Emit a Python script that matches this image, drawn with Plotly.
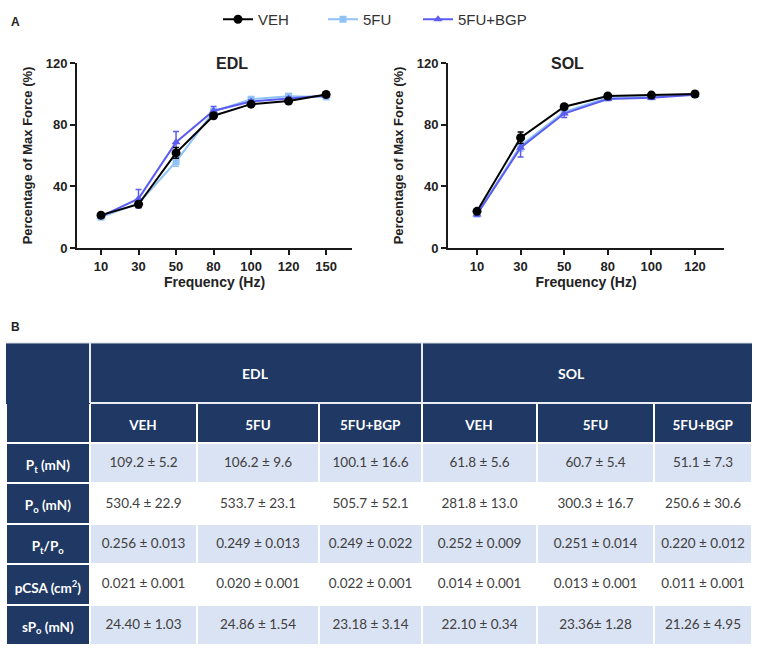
import plotly.graph_objects as go

# ---------------- data ----------------
freq_edl = ["10", "30", "50", "80", "100", "120", "150"]
edl_veh = [21.3, 28.4, 61.7, 85.8, 93.3, 95.3, 99.6]
edl_veh_err = [1.0, 1.5, 3.5, 1.0, 1.0, 1.0, 0.3]
edl_5fu = [20.0, 29.0, 56.0, 88.5, 96.5, 98.5, 98.0]
edl_5fu_err = [1.0, 1.5, 3.0, 2.0, 1.0, 1.5, 0.5]
edl_bgp = [20.5, 32.0, 68.6, 89.0, 95.0, 97.0, 99.0]
edl_bgp_err = [1.0, 6.0, 7.0, 2.8, 1.0, 1.0, 0.5]

freq_sol = ["10", "30", "50", "80", "100", "120"]
sol_veh = [23.8, 71.5, 91.6, 98.6, 99.2, 99.9]
sol_veh_err = [1.0, 3.7, 1.0, 0.8, 0.8, 0.3]
sol_5fu = [22.0, 66.4, 88.3, 97.5, 98.0, 99.5]
sol_5fu_err = [1.0, 3.5, 1.5, 1.0, 1.0, 0.5]
sol_bgp = [21.8, 65.0, 87.2, 96.6, 97.5, 99.4]
sol_bgp_err = [1.0, 6.0, 2.6, 1.0, 1.0, 0.5]

y_ticks = [0, 40, 80, 120]

row_labels = ["P<sub>t</sub> (mN)", "P<sub>o</sub> (mN)", "P<sub>t</sub>/P<sub>o</sub>",
              "pCSA (cm<sup>2</sup>)", "sP<sub>o</sub> (mN)"]
group_labels = ["EDL", "SOL"]
sub_headers = ["VEH", "5FU", "5FU+BGP", "VEH", "5FU", "5FU+BGP"]
edl_veh_tab = ["109.2 ± 5.2", "530.4 ± 22.9", "0.256 ± 0.013", "0.021 ± 0.001", "24.40 ± 1.03"]
edl_5fu_tab = ["106.2 ± 9.6", "533.7 ± 23.1", "0.249 ± 0.013", "0.020 ± 0.001", "24.86 ± 1.54"]
edl_bgp_tab = ["100.1 ± 16.6", "505.7 ± 52.1", "0.249 ± 0.022", "0.022 ± 0.001", "23.18 ± 3.14"]
sol_veh_tab = ["61.8 ± 5.6", "281.8 ± 13.0", "0.252 ± 0.009", "0.014 ± 0.001", "22.10 ± 0.34"]
sol_5fu_tab = ["60.7 ± 5.4", "300.3 ± 16.7", "0.251 ± 0.014", "0.013 ± 0.001", "23.36± 1.28"]
sol_bgp_tab = ["51.1 ± 7.3", "250.6 ± 30.6", "0.220 ± 0.012", "0.011 ± 0.001", "21.26 ± 4.95"]

# ---------------- style ----------------
W, H = 757, 651
NAVY = "#203864"
LIGHT = "#DAE3F3"
C_VEH = "#000000"
C_5FU = "#8FC3F7"
C_BGP = "#5C5CF2"
FONT = "Liberation Sans, Arial, sans-serif"
TFONT = "Lato, sans-serif"
NB = "\u00a0"


def px_x(x):
    return x / W


def px_y(y):
    return 1 - y / H


def nb(s):
    return s.replace(" ", NB)


fig = go.Figure()

# name, colour, symbol, size, legend id, legend left (px)
series = [
    ("5FU", C_5FU, "square", 7, "legend2", 323),
    ("5FU+BGP", C_BGP, "triangle-up", 8, "legend3", 418),
    ("VEH", C_VEH, "circle", 9, "legend", 218),
]
edl_data = {"VEH": (edl_veh, edl_veh_err), "5FU": (edl_5fu, edl_5fu_err), "5FU+BGP": (edl_bgp, edl_bgp_err)}
sol_data = {"VEH": (sol_veh, sol_veh_err), "5FU": (sol_5fu, sol_5fu_err), "5FU+BGP": (sol_bgp, sol_bgp_err)}

legend_layouts = {}
for name, col, sym, size, leg, leg_x in series:
    legend_layouts[leg] = dict(orientation="h", x=px_x(leg_x), xanchor="left", y=px_y(3), yanchor="top",
                               font=dict(family=FONT, size=15, color="#333"), itemwidth=30,
                               bgcolor="rgba(0,0,0,0)")
    for xa, ya, freq, data, show in [("x", "y", freq_edl, edl_data, True), ("x2", "y2", freq_sol, sol_data, False)]:
        vals, err = data[name]
        fig.add_trace(go.Scatter(
            x=freq, y=vals, mode="lines+markers", name=name,
            xaxis=xa, yaxis=ya, showlegend=show, legend=leg,
            line=dict(color=col, width=2),
            marker=dict(symbol=sym, size=size, color=col),
            error_y=dict(type="data", array=err, color=col, thickness=1.5, width=3),
        ))

axis_common = dict(showgrid=False, zeroline=False, showline=True, linecolor="#1a1a1a", linewidth=2,
                   ticks="outside", ticklen=5, tickwidth=2, tickcolor="#1a1a1a", automargin=False,
                   tickfont=dict(family=FONT, size=13, color="#222", weight="bold"))

fig.update_layout(
    width=W, height=H, margin=dict(l=0, r=0, t=0, b=0, autoexpand=False),
    paper_bgcolor="white", plot_bgcolor="white",
    font=dict(family=FONT),
    xaxis=dict(domain=[px_x(77), px_x(352)], type="category", range=[-0.64, 6.69],
               title=dict(text="Frequency (Hz)", font=dict(size=14, color="#222", weight="bold"), standoff=4),
               anchor="y", **axis_common),
    yaxis=dict(domain=[px_y(248), px_y(63)], range=[0, 120], tickvals=y_ticks,
               title=dict(text="Percentage of Max Force (%)", font=dict(size=13, color="#222", weight="bold"), standoff=10),
               anchor="x", **axis_common),
    xaxis2=dict(domain=[px_x(448), px_x(724)], type="category", range=[-0.665, 5.665],
                title=dict(text="Frequency (Hz)", font=dict(size=14, color="#222", weight="bold"), standoff=4),
                anchor="y2", **axis_common),
    yaxis2=dict(domain=[px_y(248), px_y(63)], range=[0, 120], tickvals=y_ticks,
                title=dict(text="Percentage of Max Force (%)", font=dict(size=13, color="#222", weight="bold"), standoff=10),
                anchor="x2", **axis_common),
    **legend_layouts,
)

# ---------------- table ----------------
col_widths = [84, 107, 122, 103, 115, 117, 98]
n_rows = len(row_labels)
row_fill = [LIGHT if i % 2 == 0 else "white" for i in range(n_rows)]
fill_colors = [[NAVY] * n_rows] + [row_fill] * 6
font_colors = [["white"] * n_rows] + [["#404040"] * n_rows] * 6
text_cols = [[f"<b>{nb(r)}</b>" for r in row_labels]] + [
    [nb(v) for v in c] for c in (edl_veh_tab, edl_5fu_tab, edl_bgp_tab, sol_veh_tab, sol_5fu_tab, sol_bgp_tab)]
header_text = [""] + [f"<b>{nb(h)}</b>" for h in sub_headers]

ROW_H = 40.4
# cell backgrounds and white grid
fig.add_trace(go.Table(
    domain=dict(x=[px_x(6), px_x(752)], y=[px_y(645), px_y(403)]),
    columnwidth=col_widths,
    header=dict(values=[""] * 7, fill_color=NAVY, line=dict(color="white", width=2), height=40),
    cells=dict(values=[[""] * n_rows] * 7, fill_color=fill_colors, line=dict(color="white", width=2),
               height=ROW_H),
))
# cell texts (same grid, nudged down so text sits in the middle of each cell)
fig.add_trace(go.Table(
    domain=dict(x=[px_x(6), px_x(752)], y=[px_y(651), px_y(409)]),
    columnwidth=col_widths,
    header=dict(values=header_text, fill_color="rgba(0,0,0,0)", line=dict(color="rgba(0,0,0,0)", width=0),
                font=dict(family=TFONT, size=13.5, color="white"), align="center", height=40),
    cells=dict(values=text_cols, fill_color="rgba(0,0,0,0)", line=dict(color="rgba(0,0,0,0)", width=0),
               font=dict(family=TFONT, size=13.5, color=font_colors), align="center", height=ROW_H),
))

# merged top header row (EDL / SOL) and merged first-column header
shapes = [
    dict(type="rect", xref="paper", yref="paper", x0=px_x(6), x1=px_x(752), y0=px_y(404), y1=px_y(343),
         fillcolor=NAVY, line=dict(width=0), layer="above"),
    dict(type="line", xref="paper", yref="paper", x0=px_x(90), x1=px_x(752), y0=px_y(403), y1=px_y(403),
         line=dict(color="#E8EDF5", width=2), layer="above"),
    dict(type="line", xref="paper", yref="paper", x0=px_x(90), x1=px_x(90), y0=px_y(343), y1=px_y(403),
         line=dict(color="#E8EDF5", width=2), layer="above"),
    dict(type="line", xref="paper", yref="paper", x0=px_x(422), x1=px_x(422), y0=px_y(343), y1=px_y(403),
         line=dict(color="#E8EDF5", width=2), layer="above"),
    dict(type="line", xref="paper", yref="paper", x0=px_x(6), x1=px_x(752), y0=px_y(343), y1=px_y(343),
         line=dict(color="#D0D6E0", width=1), layer="above"),
]
fig.update_layout(shapes=shapes)

ann = [
    dict(text="<b>EDL</b>", x=(px_x(77) + px_x(352)) / 2, y=px_y(53), xref="paper", yref="paper",
         showarrow=False, font=dict(family=FONT, size=16, color="#222")),
    dict(text="<b>SOL</b>", x=(px_x(448) + px_x(724)) / 2, y=px_y(53), xref="paper", yref="paper",
         showarrow=False, font=dict(family=FONT, size=16, color="#222")),
    dict(text="<b>A</b>", x=px_x(9), y=px_y(13), xref="paper", yref="paper", xanchor="left",
         showarrow=False, font=dict(family=FONT, size=12, color="#222")),
    dict(text="<b>B</b>", x=px_x(9), y=px_y(327), xref="paper", yref="paper", xanchor="left",
         showarrow=False, font=dict(family=FONT, size=12, color="#222")),
    dict(text="<b>EDL</b>", x=(px_x(90) + px_x(422)) / 2, y=px_y(373), xref="paper", yref="paper",
         showarrow=False, font=dict(family=TFONT, size=14, color="white")),
    dict(text="<b>SOL</b>", x=(px_x(422) + px_x(752)) / 2, y=px_y(373), xref="paper", yref="paper",
         showarrow=False, font=dict(family=TFONT, size=14, color="white")),
]
fig.update_layout(annotations=ann)

fig.write_html("out.html", config={"displayModeBar": False},
               post_script="document.body.style.margin='0px';")
